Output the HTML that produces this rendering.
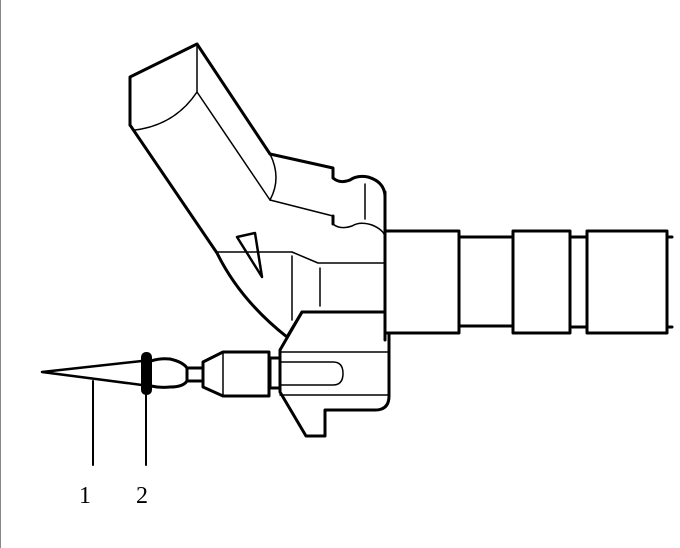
<!DOCTYPE html>
<html><head><style>html,body{margin:0;padding:0;background:#fff}svg{display:block}</style></head><body>
<svg width="680" height="548" viewBox="0 0 680 548" xmlns="http://www.w3.org/2000/svg">
<line x1="0.5" y1="0" x2="0.5" y2="548" stroke="#888" stroke-width="1"/>
<g fill="none" stroke="#000" stroke-linejoin="round" stroke-linecap="round">
<path d="M130,125 L130,77 L197,44 L270,154" stroke-width="3"/>
<path d="M135,130 Q175,125 197,92 L270,200" stroke-width="1.5"/>
<line x1="197" y1="44" x2="197" y2="92" stroke-width="1.5"/>
<path d="M270,154 Q282,178 270,200" stroke-width="1.5"/>
<path d="M270,154 L333,168 L333,178 Q340,184 350,180 Q357,175 368,177 Q385,182 385,197" stroke-width="3"/>
<path d="M270,200 L333,216 L333,224 Q340,230 352,226 Q360,221 372,225 Q384,230 385,237" stroke-width="1.5"/>
<path d="M333,216 L333,224" stroke-width="3"/>
<line x1="365" y1="184" x2="365" y2="219" stroke-width="1.5"/>
<path d="M130,125 L217,253 Q240,300 287,337 L302,312 L385,312" stroke-width="3"/>
<path d="M217,252 L292,252 L318,263 L385,263" stroke-width="1.5"/>
<line x1="292" y1="256" x2="292" y2="320" stroke-width="1.5"/>
<line x1="320" y1="268" x2="320" y2="306" stroke-width="1.5"/>
<path d="M237,237 L255,233 L262,277 Z" stroke-width="2.5"/>
<line x1="385" y1="192" x2="385" y2="340" stroke-width="3"/>
<rect x="385" y="231" width="74" height="102" stroke-width="3"/>
<path d="M459,237 L513,237 M459,326 L513,326" stroke-width="3"/>
<rect x="513" y="231" width="57" height="102" stroke-width="3"/>
<path d="M570,237 L587,237 M570,327 L587,327" stroke-width="3"/>
<rect x="587" y="231" width="80" height="102" stroke-width="3"/>
<path d="M667,237 L672,237 M667,327 L672,327" stroke-width="3"/>
<path d="M302,312 L280,350 L280,392 L306,436 L325,436 L325,410 L375,410 Q389,410 389,396 L389,333" stroke-width="3"/>
<line x1="385" y1="312" x2="385" y2="333" stroke-width="3"/>
<line x1="280" y1="352" x2="389" y2="352" stroke-width="1.5"/>
<line x1="280" y1="395" x2="389" y2="395" stroke-width="1.5"/>
<path d="M280,362 L333,362 Q343,362 343,373.5 Q343,385 333,385 L280,385" stroke-width="1.5"/>
<rect x="270" y="358" width="10" height="30" stroke-width="3"/>
<path d="M269,352 L223,352 L203,362 L203,387 L223,396 L269,396 Z" stroke-width="3"/>
<line x1="223" y1="352" x2="223" y2="396" stroke-width="1.5"/>
<rect x="187" y="368" width="16" height="13" stroke-width="3"/>
<path d="M151,361 Q160,358 170,359 Q183,362 187,368 M187,381 Q183,387 170,387 Q160,388 151,386" stroke-width="3"/>
<path d="M142,361 L42,372 L142,385" stroke-width="2.5"/>
<line x1="93" y1="381" x2="93" y2="465" stroke-width="2"/>
<line x1="146" y1="395" x2="146" y2="465" stroke-width="2"/>
</g>
<rect x="141" y="352" width="11" height="43" rx="5" fill="#000"/>
<g font-family="Liberation Serif, serif" font-size="24" fill="#000">
<text x="79" y="503">1</text>
<text x="136" y="503">2</text>
</g>
</svg>
</body></html>
